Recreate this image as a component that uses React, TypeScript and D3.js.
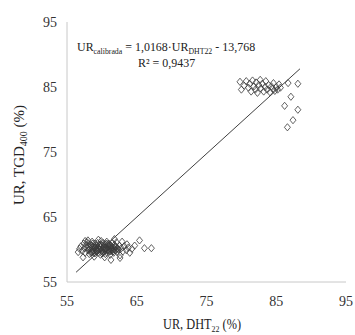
import { useEffect, useRef } from "react";
import * as d3 from "d3";

// ticks on both axes
const xTicks = [55, 65, 75, 85, 95];
const yTicks = [55, 65, 75, 85, 95];

// measured points: low humidity cluster
const lowX = [57.0, 57.2, 57.4, 57.5, 57.6, 57.8, 57.9, 58.0, 58.1, 58.2, 58.3, 58.4, 58.5, 58.6, 58.7, 58.8, 58.9, 59.0, 59.0, 59.1, 59.2, 59.3, 59.4, 59.4, 59.5, 59.6, 59.7, 59.8, 59.8, 59.9, 60.0, 60.0, 60.1, 60.2, 60.2, 60.3, 60.4, 60.5, 60.5, 60.6, 60.7, 60.8, 60.9, 61.0, 61.0, 61.1, 61.2, 61.3, 61.4, 61.5, 61.6, 61.7, 61.8, 61.9, 62.0, 62.1, 62.2, 62.3, 62.5, 62.6, 62.8, 63.0, 63.2, 63.5, 63.8, 64.0, 64.3, 64.7, 65.4, 66.1, 67.1, 61.3, 62.6, 57.3, 56.8, 58.0, 59.5, 60.4, 61.8, 57.6, 58.9, 62.9, 63.6, 56.6,
  58.2, 58.5, 58.8, 59.1, 59.3, 59.6, 59.9, 60.1, 60.3, 60.6, 60.8, 61.1, 61.4, 61.6, 61.9, 62.2, 58.4, 58.7, 59.0, 59.3, 59.7, 60.0, 60.4, 60.7, 61.0, 61.3, 61.7, 62.0, 59.2, 59.8, 60.5, 61.2, 57.9, 62.4, 58.6, 60.9];
const lowY = [60.5, 59.8, 60.9, 60.2, 59.5, 60.7, 61.1, 59.9, 60.4, 59.3, 60.8, 60.1, 59.6, 61.2, 60.5, 59.9, 60.3, 59.4, 60.9, 60.0, 60.6, 59.7, 61.0, 60.2, 59.5, 60.7, 60.0, 59.2, 60.4, 61.3, 59.8, 60.6, 60.1, 59.5, 61.0, 60.3, 59.8, 60.8, 59.3, 60.2, 61.2, 59.9, 60.5, 59.6, 60.9, 60.1, 59.2, 60.6, 59.8, 61.0, 60.3, 59.5, 60.7, 59.9, 60.4, 61.1, 59.6, 60.1, 60.6, 59.1, 60.2, 59.7, 60.5, 59.9, 60.3, 59.5, 60.1, 60.6, 61.4, 60.2, 60.2, 58.4, 58.7, 58.8, 60.1, 61.4, 61.5, 58.8, 61.6, 61.3, 58.9, 61.2, 60.8, 59.6,
  60.0, 60.6, 59.7, 60.4, 59.9, 60.2, 60.8, 59.6, 60.5, 59.9, 60.3, 60.7, 60.0, 59.7, 60.5, 60.2, 59.5, 60.9, 60.3, 59.8, 60.6, 59.4, 60.0, 60.9, 59.8, 60.4, 60.0, 59.9, 59.9, 60.4, 60.2, 59.7, 60.3, 60.0, 59.6, 60.7];

// high humidity cluster
const highX = [79.8, 80.0, 80.4, 80.7, 81.0, 81.2, 81.4, 81.6, 81.8, 82.0, 82.1, 82.3, 82.5, 82.7, 82.8, 83.0, 83.2, 83.4, 83.5, 83.7, 83.9, 84.1, 84.3, 84.5, 84.6, 84.8, 85.0, 85.2, 85.4, 85.6, 86.7, 88.1, 87.1, 86.2, 88.1, 87.4, 86.6];
const highY = [85.8, 84.6, 85.2, 85.9, 84.9, 85.5, 84.3, 86.0, 85.1, 84.6, 85.7, 84.1, 85.3, 86.1, 84.8, 85.5, 84.3, 85.0, 85.9, 84.6, 85.3, 84.2, 85.1, 84.7, 85.6, 84.4, 85.0, 84.6, 85.4, 84.9, 85.6, 85.5, 83.5, 82.1, 81.5, 79.9, 78.8];

// trendline ends as drawn
const trendX = [56.3, 88.4];
const trendY = [56.5, 87.8];

const FONT = "'Liberation Serif', 'Times New Roman', serif";

const App = () => {
  const svgRef = useRef<SVGSVGElement>(null);

  useEffect(() => {
    const svg = d3.select(svgRef.current);
    svg.selectAll("*").remove();

    const x = d3.scaleLinear().domain([55, 95]).range([67, 346]);
    const y = d3.scaleLinear().domain([55, 95]).range([282, 22]);

    // axis lines
    svg.append("line")
      .attr("x1", x(55)).attr("x2", x(55))
      .attr("y1", y(95)).attr("y2", y(55))
      .attr("stroke", "#c8c8c8").attr("stroke-width", 1);
    svg.append("line")
      .attr("x1", x(55)).attr("x2", x(95))
      .attr("y1", y(55)).attr("y2", y(55))
      .attr("stroke", "#c8c8c8").attr("stroke-width", 1);

    svg.append("g").selectAll("text")
      .data(yTicks).enter().append("text")
      .attr("x", 57).attr("y", (d) => y(d) + 5)
      .attr("text-anchor", "end")
      .attr("font-family", FONT).attr("font-size", 14)
      .attr("fill", "#333")
      .text((d) => d);

    svg.append("g").selectAll("text")
      .data(xTicks).enter().append("text")
      .attr("x", (d) => x(d)).attr("y", 306)
      .attr("text-anchor", "middle")
      .attr("font-family", FONT).attr("font-size", 14)
      .attr("fill", "#333")
      .text((d) => d);

    // markers, no fill so overlaps go dark like the original
    const pts = [
      ...lowX.map((v, i) => [v, lowY[i]]),
      ...highX.map((v, i) => [v, highY[i]]),
    ];
    const diamond = "M0,-3.6L3,0L0,3.6L-3,0Z";
    svg.append("g").selectAll("path")
      .data(pts).enter().append("path")
      .attr("d", diamond)
      .attr("transform", (d) => `translate(${x(d[0])},${y(d[1])})`)
      .attr("fill", "none")
      .attr("stroke", "#3a3a3a")
      .attr("stroke-width", 0.8);

    // trendline
    svg.append("line")
      .attr("x1", x(trendX[0])).attr("y1", y(trendY[0]))
      .attr("x2", x(trendX[1])).attr("y2", y(trendY[1]))
      .attr("stroke", "#404040").attr("stroke-width", 1);

    // equation (source font is a bit condensed)
    const eq = svg.append("text")
      .attr("transform", "translate(77,51) scale(0.92,1)")
      .attr("font-family", FONT).attr("font-size", 13)
      .attr("fill", "#222");
    eq.append("tspan").text("UR");
    eq.append("tspan").attr("font-size", 8.5).attr("dy", 3).text("calibrada");
    eq.append("tspan").attr("dy", -3).text(" = 1,0168·UR");
    eq.append("tspan").attr("font-size", 8.5).attr("dy", 3).text("DHT22");
    eq.append("tspan").attr("dy", -3).text(" - 13,768");

    svg.append("text")
      .attr("transform", "translate(138,67) scale(0.92,1)")
      .attr("font-family", FONT).attr("font-size", 13)
      .attr("fill", "#222")
      .text("R² = 0,9437");

    // axis titles
    const xt = svg.append("text")
      .attr("transform", "translate(202,329) scale(0.88,1)")
      .attr("text-anchor", "middle")
      .attr("font-family", FONT).attr("font-size", 14)
      .attr("fill", "#222");
    xt.append("tspan").text("UR, DHT");
    xt.append("tspan").attr("font-size", 9).attr("dy", 3).text("22");
    xt.append("tspan").attr("dy", -3).text(" (%)");

    const yt = svg.append("text")
      .attr("transform", "translate(24,155) rotate(-90)")
      .attr("text-anchor", "middle")
      .attr("font-family", FONT).attr("font-size", 15)
      .attr("fill", "#222");
    yt.append("tspan").text("UR, TGD");
    yt.append("tspan").attr("font-size", 10).attr("dy", 3).text("400");
    yt.append("tspan").attr("dy", -3).text(" (%)");
  }, []);

  return (
    <svg
      ref={svgRef}
      width={355}
      height={335}
      style={{ position: "absolute", left: 0, top: 0, background: "#fff" }}
    />
  );
};

export default App;
